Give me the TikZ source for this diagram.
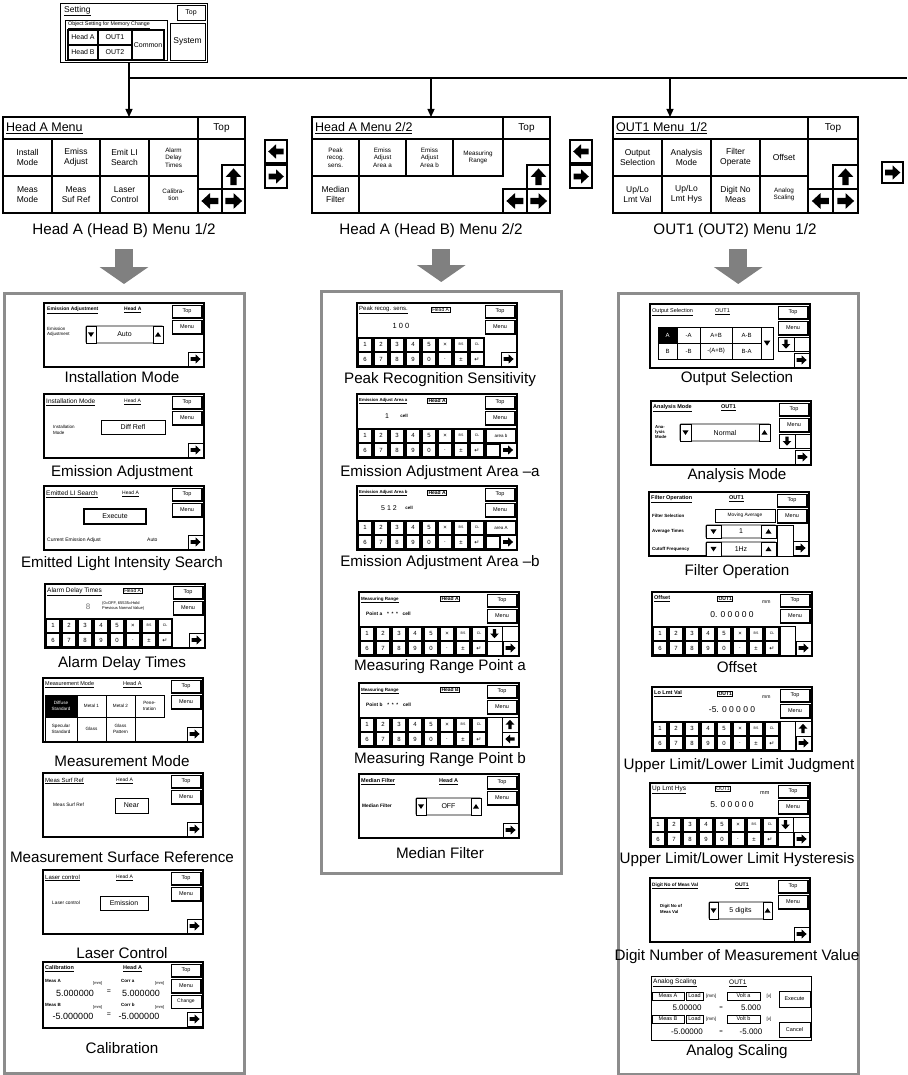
\documentclass[tikz,border=0pt]{standalone}
\usepackage{fontspec}
\setmainfont{Liberation Sans}
\newfontfamily\symfont{DejaVu Sans}
\usetikzlibrary{arrows.meta, calc}

\newcommand{\fsz}[1]{\fontsize{#1}{#1}\selectfont}

\tikzset{
  pics/blk/.style={code={\fill (-0.75,-0.28) -- (0,-0.28) -- (0,-0.72) -- (0.78,0) -- (0,0.72) -- (0,0.28) -- (-0.75,0.28) -- cycle;}},
  pics/tri/.style={code={\fill (-1,-0.7) -- (1,-0.7) -- (0,0.8) -- cycle;}}
}

% arrow key: [style] x1 y1 x2 y2 angle size
\newcommand{\abtn}[7][btn]{%
  \draw[#1] (#2,#3) rectangle (#4,#5);
  \pic[rotate=#6, scale=#7] at ({(#2+#4)/2},{(#3+#5)/2}) {blk};}
% Top and Menu keys of a setting screen
\newcommand{\topmenu}{%
  \draw[btn] (128,2) rectangle (158,15);
  \draw[line width=1.4pt] (158,2.5) -- (158,15) -- (128.5,15);
  \node[stxt] at (143,8.5) {Top};
  \draw[btn] (128,17) rectangle (158,31);
  \draw[line width=1.4pt] (158,17.5) -- (158,31) -- (128.5,31);
  \node[stxt] at (143,24) {Menu};}
\newcommand{\nextbtn}{\abtn{144}{49}{159}{63}{0}{6.5}}
% ten-key pad, #1 = gap between keys
\newcommand{\numpad}[1]{%
  \fill (0,34) rectangle (128,64);
  \foreach \i in {0,...,7} {
    \fill[white] ({16*\i+#1},{34+#1}) rectangle ({16*\i+16-#1},{49-#1/2});
    \fill[white] ({16*\i+#1},{49+#1/2}) rectangle ({16*\i+16-#1},{64-#1});
  }
  \foreach \k [count=\i from 0] in {1,2,3,4,5,×,{\fsz{3.5}BS},{\fsz{3.5}CL}}
    \node[keylbl] at ({16*\i+8},41.5) {\k};
  \foreach \k [count=\i from 0] in {6,7,8,9,0,.,±,{\symfont ↵}}
    \node[keylbl] at ({16*\i+8},56.5) {\k};}
% up/down selector: x1 y1 x2 y2 text key-width
\newcommand{\selbox}[6]{%
  \draw[btn, rounded corners=1pt] (#1,#2) rectangle (#3,#4);
  \draw[btn] (#1,#2) rectangle ({#1+#6},#4);
  \draw[btn] ({#3-#6},#2) rectangle (#3,#4);
  \pic[scale=3] at ({#1+#6/2},{(#2+#4)/2}) {tri};
  \pic[rotate=180, scale=3] at ({#3-#6/2},{(#2+#4)/2}) {tri};
  \node[stxt, font=\fsz{7}] at ({(#1+#3)/2},{(#2+#4)/2}) {#5};}

\begin{document}
\begin{tikzpicture}[x=1pt, y=-1pt,
    scr/.style={draw=black, line width=1.3pt, fill=white},
    mscr/.style={draw=black, line width=2pt, fill=white, inner sep=0pt, outer sep=0pt},
    btn/.style={draw=black, line width=0.9pt, fill=white},
    mbtn/.style={draw=black, line width=1.8pt, fill=white},
    stxt/.style={inner sep=0pt, font=\fsz{5.5}},
    ttl/.style={anchor=west, inner sep=0pt, font=\fsz{5.5}},
    hbox/.style={draw=black, line width=0.7pt, inner sep=1pt, anchor=west, font=\fsz{5}},
    keylbl/.style={inner sep=0pt, font=\fsz{6}},
    mlbl/.style={inner sep=0pt, align=center, font=\fontsize{8.5}{10.5}\selectfont},
    slbl/.style={inner sep=0pt, align=center, font=\fontsize{6.3}{7.3}\selectfont},
    tlbl/.style={inner sep=0pt, align=center, font=\fontsize{4.6}{5.4}\selectfont},
    captxt/.style={inner sep=0pt, font=\fsz{15.2}},
    panel/.style={draw=black!45, line width=2.5pt, inner sep=0pt},
    flow/.style={line width=1.3pt, -{Triangle[length=8pt, width=7pt]}},
    bigarrow/.style={draw=black!50, line width=18pt, -{Triangle[length=17pt, width=48pt]}}
  ]
  \path[use as bounding box] (0,0) rectangle (907,1075);

  % --- SETTING SCREEN ---
  \node[scr, anchor=north west, minimum width=147, minimum height=59] (setting) at (60,3) {};
  \begin{scope}[shift={(60,3)}]
    \node[ttl, font=\fsz{8.5}] at (4,8) {\underline{Setting}};
    \draw[btn] (117,2) rectangle (145,17);
    \node[stxt, font=\fsz{7}] at (131,9.5) {Top};
    \draw[line width=0.6pt] (5,17) rectangle (107,57);
    \node[ttl, font=\fsz{5.3}] at (8,22.5) {\underline{Object Setting for Memory Change}};
    \draw[mbtn, line width=1.4pt] (8,27) rectangle (38,42) (38,27) rectangle (72,42)
      (8,42) rectangle (38,57) (38,42) rectangle (72,57) (72,27) rectangle (104,57);
    \node[stxt, font=\fsz{7}] at (23,34.5) {Head A};
    \node[stxt, font=\fsz{7}] at (55,34.5) {OUT1};
    \node[stxt, font=\fsz{7}] at (23,49.5) {Head B};
    \node[stxt, font=\fsz{7}] at (55,49.5) {OUT2};
    \node[stxt, font=\fsz{7}] at (88,42) {Common};
    \draw[btn] (110,20) rectangle (145,57);
    \node[stxt, font=\fsz{8.5}] at (127.5,38.5) {System};
  \end{scope}

  % --- MENU SCREENS ---
  \node[mscr, anchor=north west, minimum width=242, minimum height=96] (headA) at (3,117) {};
  \begin{scope}[shift={(3,117)}]
    \draw[mbtn] (0,0) rectangle (195,22) (195,0) rectangle (242,22);
    \node[ttl, font=\fsz{12.5}] at (3,11) {\underline{Head A Menu}};
    \node[mlbl, font=\fsz{10}] at (218.5,11) {Top};
    \draw[mbtn] (0,22) rectangle (49,59) (49,22) rectangle (97,59) (97,22) rectangle (146,59) (146,22) rectangle (195,59)
      (0,59) rectangle (49,96) (49,59) rectangle (97,96) (97,59) rectangle (146,96) (146,59) rectangle (195,96);
    \node[mlbl] at (24.5,40.5) {Install\\Mode};
    \node[mlbl] at (73,40.5) {Emiss\\Adjust};
    \node[mlbl] at (121.5,40.5) {Emit LI\\Search};
    \node[slbl] at (170.5,40.5) {Alarm\\Delay\\Times};
    \node[mlbl] at (24.5,77.5) {Meas\\Mode};
    \node[mlbl] at (73,77.5) {Meas\\Suf Ref};
    \node[mlbl] at (121.5,77.5) {Laser\\Control};
    \node[slbl] at (170.5,77.5) {Calibra-\\tion};
    \abtn[mbtn]{219}{48}{242}{72}{90}{11}
    \abtn[mbtn]{195}{72}{219}{96}{180}{11}
    \abtn[mbtn]{219}{72}{242}{96}{0}{11}
  \end{scope}
  \abtn[mbtn]{265}{140}{287}{163}{180}{10}
  \abtn[mbtn]{265}{165}{287}{188}{0}{10}

  \node[mscr, anchor=north west, minimum width=238, minimum height=96] (head2) at (312,117) {};
  \begin{scope}[shift={(312,117)}]
    \draw[mbtn] (0,0) rectangle (191,22) (191,0) rectangle (238,22);
    \node[ttl, font=\fsz{12.5}] at (3,11) {\underline{Head A Menu 2/2}};
    \node[mlbl, font=\fsz{10}] at (214.5,11) {Top};
    \draw[mbtn] (0,22) rectangle (47,59) (47,22) rectangle (94,59) (94,22) rectangle (141,59) (141,22) rectangle (191,59)
      (0,59) rectangle (47,96);
    \node[slbl] at (23.5,40.5) {Peak\\recog.\\sens.};
    \node[slbl] at (70.5,40.5) {Emiss\\Adjust\\Area a};
    \node[slbl] at (117.5,40.5) {Emiss\\Adjust\\Area b};
    \node[slbl] at (166,40.5) {Measuring\\Range};
    \node[mlbl] at (23.5,77.5) {Median\\Filter};
    \abtn[mbtn]{215}{48}{238}{72}{90}{11}
    \abtn[mbtn]{191}{72}{215}{96}{180}{11}
    \abtn[mbtn]{215}{72}{238}{96}{0}{11}
  \end{scope}
  \abtn[mbtn]{570}{140}{592}{163}{180}{10}
  \abtn[mbtn]{570}{165}{592}{188}{0}{10}

  \node[mscr, anchor=north west, minimum width=245, minimum height=96] (out1) at (613,117) {};
  \begin{scope}[shift={(613,117)}]
    \draw[mbtn] (0,0) rectangle (195,22) (195,0) rectangle (245,22);
    \node[ttl, font=\fsz{12.5}] at (3,11) {\underline{OUT1 Menu\, 1/2}};
    \node[mlbl, font=\fsz{10}] at (220,11) {Top};
    \draw[mbtn] (0,22) rectangle (49,59) (49,22) rectangle (98,59) (98,22) rectangle (147,59) (147,22) rectangle (195,59)
      (0,59) rectangle (49,96) (49,59) rectangle (98,96) (98,59) rectangle (147,96) (147,59) rectangle (195,96);
    \node[mlbl] at (24.5,40.5) {Output\\Selection};
    \node[mlbl] at (73.5,40.5) {Analysis\\Mode};
    \node[mlbl] at (122.5,40.5) {Filter\\Operate};
    \node[mlbl] at (171,40.5) {Offset};
    \node[mlbl] at (24.5,77.5) {Up/Lo\\Lmt Val};
    \node[mlbl] at (73.5,77.5) {Up/Lo\\Lmt Hys};
    \node[mlbl] at (122.5,77.5) {Digit No\\Meas};
    \node[slbl] at (171,77.5) {Analog\\Scaling};
    \abtn[mbtn]{220}{48}{245}{72}{90}{11}
    \abtn[mbtn]{195}{72}{220}{96}{180}{11}
    \abtn[mbtn]{220}{72}{245}{96}{0}{11}
  \end{scope}
  \abtn[mbtn]{882}{162}{903}{183}{0}{10}

  % --- TOP CONNECTIONS ---
  \coordinate (busL) at (129,78);
  \coordinate (busR) at (907,78);
  \coordinate (tapC) at (670,78);
  \draw[line width=1.3pt] (setting.south -| busL) -- (busL) -- (busR);
  \draw[flow] (busL) -- (busL |- headA.north);
  \draw[flow] (busL -| head2.north) -- (head2.north);
  \draw[flow] (tapC) -- (tapC |- out1.north);

  % --- MENU CAPTIONS ---
  \node[captxt] (capMenuA) at (124,231) {Head A (Head B) Menu 1/2};
  \node[captxt] (capMenuB) at (431,231) {Head A (Head B) Menu 2/2};
  \node[captxt] (capMenuC) at (735,231) {OUT1 (OUT2) Menu 1/2};

  % --- PANELS ---
  \node[panel, anchor=north west, minimum width=240, minimum height=780] (panelA) at (3,292) {};
  \node[panel, anchor=north west, minimum width=240, minimum height=582] (panelB) at (320,290) {};
  \node[panel, anchor=north west, minimum width=240, minimum height=781] (panelC) at (617,292) {};

  \draw[bigarrow] ([yshift=-11pt]capMenuA.south) -- ([yshift=8pt]capMenuA.south |- panelA.north);
  \draw[bigarrow] ([yshift=-11pt]capMenuB.south -| panelB.north) -- ([yshift=8pt]panelB.north);
  \draw[bigarrow] ([yshift=-11pt]capMenuC.south -| panelC.north) -- ([yshift=8pt]panelC.north);

  % --- PANEL A: HEAD SETTINGS 1/2 ---
  \begin{scope}[shift={(44,303)}]
    \draw[scr] (0,0) rectangle (160,64);
    \node[ttl, font=\fsz{5}\bfseries] at (3,7) {\underline{Emission Adjustment}};
    \node[ttl, font=\fsz{5}\bfseries] at (80,7) {\underline{Head A}};
    \node[ttl, font=\fontsize{4.5}{5.5}\selectfont, align=left] at (3,29) {Emission\\Adjustment};
    \selbox{42}{23}{119}{40}{Auto}{10}
    \topmenu \nextbtn
  \end{scope}
  \node[captxt] (capInst) at (122,377) {Installation Mode};

  \begin{scope}[shift={(44,394)}]
    \draw[scr] (0,0) rectangle (160,64);
    \node[ttl, font=\fsz{6.5}] at (2,8) {\underline{Installation Mode}};
    \node[ttl, font=\fsz{5}] at (80,8) {\underline{Head A}};
    \node[ttl, font=\fontsize{4.5}{5.5}\selectfont, align=left] at (9,36) {Installation\\Mode};
    \draw[btn] (57,26) rectangle (121,40);
    \node[stxt, font=\fsz{7}] at (89,33) {Diff Refl};
    \topmenu \nextbtn
  \end{scope}
  \node[captxt] (capEmis) at (122,473) {Emission Adjustment};

  \begin{scope}[shift={(44,486)}]
    \draw[scr] (0,0) rectangle (160,64);
    \node[ttl, font=\fsz{6.5}] at (2,8) {\underline{Emitted LI Search}};
    \node[ttl, font=\fsz{5}] at (78,8) {\underline{Head A}};
    \draw[btn, line width=1.4pt] (40,23) rectangle (102,38);
    \node[stxt, font=\fsz{7}] at (71,30.5) {Execute};
    \node[ttl, font=\fsz{5}] at (3,54) {Current Emission Adjust};
    \node[ttl, font=\fsz{5}] at (103,54) {Auto};
    \topmenu \nextbtn
  \end{scope}
  \node[captxt] (capSearch) at (122,564) {Emitted Light Intensity Search};

  \begin{scope}[shift={(45,584)}]
    \draw[scr] (0,0) rectangle (160,64);
    \node[ttl, font=\fsz{6.5}] at (2,8) {\underline{Alarm Delay Times}};
    \node[hbox] at (78,7) {Head A};
    \node[stxt, font=\fsz{8}, text=black!55] at (43,23) {8};
    \node[ttl, font=\fontsize{4}{4.6}\selectfont, align=left] at (57,22) {(0=OFF, 65535=Hold\\Previous Normal Value)};
    \numpad{1.7}
    \topmenu \nextbtn
  \end{scope}
  \node[captxt] (capAlarm) at (122,664) {Alarm Delay Times};

  \begin{scope}[shift={(43,678)}]
    \draw[scr] (0,0) rectangle (160,64);
    \node[ttl, font=\fsz{5.5}] at (2,7) {\underline{Measurement Mode}};
    \node[ttl, font=\fsz{5.5}] at (80,7) {\underline{Head A}};
    \fill (2,17) rectangle (34,39);
    \draw[line width=0.6pt] (2,17) rectangle (34,39) (34,17) rectangle (63,39) (63,17) rectangle (92,39) (92,17) rectangle (121,39)
      (2,39) rectangle (34,63) (34,39) rectangle (63,63) (63,39) rectangle (92,63);
    \node[tlbl, text=white] at (18,28) {Diffuse\\Standard};
    \node[tlbl] at (48.5,28) {Metal 1};
    \node[tlbl] at (77.5,28) {Metal 2};
    \node[tlbl] at (106.5,28) {Pene-\\tration};
    \node[tlbl] at (18,51) {Specular\\Standard};
    \node[tlbl] at (48.5,51) {Glass};
    \node[tlbl] at (77.5,51) {Glass\\Pattern};
    \topmenu \nextbtn
  \end{scope}
  \node[captxt] (capMeasMode) at (122,761) {Measurement Mode};

  \begin{scope}[shift={(43,773)}]
    \draw[scr] (0,0) rectangle (160,64);
    \node[ttl, font=\fsz{6}] at (2,8) {\underline{Meas Surf Ref}};
    \node[ttl, font=\fsz{5}] at (73,8) {\underline{Head A}};
    \node[ttl, font=\fsz{4.8}] at (10,32) {Meas Surf Ref};
    \draw[btn] (72,25) rectangle (105,40);
    \node[stxt, font=\fsz{7}] at (88.5,32.5) {Near};
    \topmenu \nextbtn
  \end{scope}
  \node[captxt] (capSurf) at (122,857) {Measurement Surface Reference};

  \begin{scope}[shift={(43,870)}]
    \draw[scr] (0,0) rectangle (160,64);
    \node[ttl, font=\fsz{6}] at (2,8) {\underline{Laser control}};
    \node[ttl, font=\fsz{5}] at (73,8) {\underline{Head A}};
    \node[ttl, font=\fsz{4.8}] at (9,33) {Laser control};
    \draw[btn] (57,26) rectangle (105,40);
    \node[stxt, font=\fsz{7}] at (81,33) {Emission};
    \topmenu \nextbtn
  \end{scope}
  \node[captxt] (capLaser) at (122,953) {Laser Control};

  \begin{scope}[shift={(43,962)}]
    \draw[scr, line width=1.7pt] (0,0) rectangle (160,66);
    \node[ttl, font=\fsz{5.5}\bfseries] at (2,7) {\underline{Calibration}};
    \node[ttl, font=\fsz{5.5}\bfseries] at (80,7) {\underline{Head A}};
    \node[ttl, font=\fsz{4.5}\bfseries] at (2,19) {Meas A};
    \node[ttl, font=\fsz{4}] at (50,21) {[mm]};
    \node[ttl, font=\fsz{4.5}\bfseries] at (78,19) {Corr a};
    \node[ttl, font=\fsz{4}] at (112,21) {[mm]};
    \node[stxt, font=\fsz{9}] at (32,31) {5.000000};
    \node[stxt, font=\fsz{7}] at (66,30) {=};
    \node[stxt, font=\fsz{9}] at (98,31) {5.000000};
    \node[ttl, font=\fsz{4.5}\bfseries] at (2,43) {Meas B};
    \node[ttl, font=\fsz{4}] at (50,45) {[mm]};
    \node[ttl, font=\fsz{4.5}\bfseries] at (78,43) {Corr b};
    \node[ttl, font=\fsz{4}] at (112,45) {[mm]};
    \node[stxt, font=\fsz{9}] at (30,54) {-5.000000};
    \node[stxt, font=\fsz{7}] at (66,53) {=};
    \node[stxt, font=\fsz{9}] at (96,54) {-5.000000};
    \topmenu
    \draw[btn] (128,33) rectangle (158,46);
    \node[stxt, font=\fsz{5}] at (143,39.5) {Change};
    \abtn{144}{50}{159}{64}{0}{6.5}
  \end{scope}
  \node[captxt] (capCalib) at (122,1048) {Calibration};

  % --- PANEL B: HEAD SETTINGS 2/2 ---
  \begin{scope}[shift={(357,303)}]
    \draw[scr] (0,0) rectangle (160,64);
    \node[ttl, font=\fsz{6}] at (2,7) {\underline{Peak recog. sens.}};
    \node[hbox] at (74,7) {Head A};
    \node[stxt, font=\fsz{7.5}] at (44,23) {1 0 0};
    \numpad{1.7}
    \topmenu \nextbtn
  \end{scope}
  \node[captxt] (capPeak) at (440,380) {Peak Recognition Sensitivity};

  \begin{scope}[shift={(357,394)}]
    \draw[scr, line width=1.8pt] (0,0) rectangle (160,64);
    \node[ttl, font=\fsz{4.3}\bfseries] at (2,7) {\underline{Emission Adjust Area a}};
    \node[hbox, line width=1.1pt, font=\fsz{5}\bfseries] at (70,7) {Head A};
    \node[stxt, font=\fsz{7}] at (30,22) {1};
    \node[stxt, font=\fsz{4.5}\bfseries] at (47,22) {cell};
    \numpad{2.4}
    \fill (128,34) rectangle (160,64);
    \fill[white] (130,36) rectangle (158,47.5);
    \node[stxt, font=\fsz{4.5}] at (144,41.8) {area b};
    \fill[white] (130,50.5) rectangle (142,62);
    \abtn{143}{49}{159}{63}{0}{6.5}
    \topmenu
  \end{scope}
  \node[captxt] (capAreaA) at (440,473) {Emission Adjustment Area –a};

  \begin{scope}[shift={(357,486)}]
    \draw[scr, line width=1.8pt] (0,0) rectangle (160,64);
    \node[ttl, font=\fsz{4.3}\bfseries] at (2,7) {\underline{Emission Adjust Area b}};
    \node[hbox, line width=1.1pt, font=\fsz{5}\bfseries] at (70,7) {Head A};
    \node[stxt, font=\fsz{7}] at (32,22) {5 1 2};
    \node[stxt, font=\fsz{4.5}\bfseries] at (52,22) {cell};
    \numpad{2.4}
    \fill (128,34) rectangle (160,64);
    \fill[white] (130,36) rectangle (158,47.5);
    \node[stxt, font=\fsz{4.5}] at (144,41.8) {area A};
    \fill[white] (130,50.5) rectangle (142,62);
    \abtn{143}{49}{159}{63}{0}{6.5}
    \topmenu
  \end{scope}
  \node[captxt] (capAreaB) at (440,563) {Emission Adjustment Area –b};

  \begin{scope}[shift={(359,592)}]
    \draw[scr, line width=1.8pt] (0,0) rectangle (160,64);
    \node[ttl, font=\fsz{4.5}\bfseries] at (2,8) {\underline{Measuring Range}};
    \node[hbox, line width=1.1pt, font=\fsz{5}\bfseries] at (81,7) {Head A};
    \node[ttl, font=\fsz{4.8}\bfseries] at (7,22) {Point a\quad * \ * \ *\quad cell};
    \numpad{2.4}
    \topmenu
    \abtn{128}{34}{143}{49}{270}{6}
    \draw[btn] (143,34) rectangle (159,49);
    \draw[btn] (128,49) rectangle (143,63);
    \nextbtn
  \end{scope}
  \node[captxt] (capRangeA) at (440,667) {Measuring Range Point a};

  \begin{scope}[shift={(359,683)}]
    \draw[scr, line width=1.8pt] (0,0) rectangle (160,64);
    \node[ttl, font=\fsz{4.5}\bfseries] at (2,8) {\underline{Measuring Range}};
    \node[hbox, line width=1.1pt, font=\fsz{5}\bfseries] at (81,7) {Head B};
    \node[ttl, font=\fsz{4.8}\bfseries] at (7,22) {Point b\quad * \ * \ *\quad cell};
    \numpad{2.4}
    \topmenu
    \draw[btn] (128,34) rectangle (143,63);
    \abtn{143}{34}{159}{49}{90}{6}
    \abtn{143}{49}{159}{63}{180}{6}
  \end{scope}
  \node[captxt] (capRangeB) at (440,760) {Measuring Range Point b};

  \begin{scope}[shift={(359,774)}]
    \draw[scr] (0,0) rectangle (160,64);
    \node[ttl, font=\fsz{5.5}\bfseries] at (2,8) {\underline{Median Filter}};
    \node[ttl, font=\fsz{5.5}\bfseries] at (80,8) {\underline{Head A}};
    \node[ttl, font=\fsz{4.8}\bfseries] at (3,32) {Median Filter};
    \selbox{57}{24}{122}{41}{OFF}{10}
    \topmenu \nextbtn
  \end{scope}
  \node[captxt] (capMedian) at (440,853) {Median Filter};

  % --- PANEL C: OUTPUT SETTINGS ---
  \begin{scope}[shift={(650,304)}]
    \draw[scr] (0,0) rectangle (160,64);
    \node[ttl, font=\fsz{5.5}] at (2,8) {\underline{Output Selection}};
    \node[ttl, font=\fsz{5.5}] at (65,8) {\underline{OUT1}};
    \draw[line width=0.6pt] (8,23) rectangle (123,55);
    \fill (8,23) rectangle (27,39);
    \draw[line width=0.6pt] (27,23) -- (27,55) (50,23) -- (50,55) (82,23) -- (82,55) (111,23) -- (111,55) (8,39) -- (111,39);
    \node[stxt, font=\fsz{6}, text=white] at (17.5,31) {A};
    \node[stxt, font=\fsz{6}] at (38.5,31) {-A};
    \node[stxt, font=\fsz{6}] at (66,31) {A+B};
    \node[stxt, font=\fsz{6}] at (96.5,31) {A-B};
    \node[stxt, font=\fsz{6}] at (17.5,47) {B};
    \node[stxt, font=\fsz{6}] at (38.5,47) {-B};
    \node[stxt, font=\fsz{6}] at (66,47) {-(A+B)};
    \node[stxt, font=\fsz{6}] at (96.5,47) {B-A};
    \pic[scale=3.3] at (117,39) {tri};
    \topmenu
    \abtn{128}{33}{144}{47}{270}{6}
    \draw[btn] (144,33) rectangle (159,47);
    \nextbtn
  \end{scope}
  \node[captxt] (capOutSel) at (737,379) {Output Selection};

  \begin{scope}[shift={(651,401)}]
    \draw[scr] (0,0) rectangle (160,64);
    \node[ttl, font=\fsz{5.5}\bfseries] at (2,7) {\underline{Analysis Mode}};
    \node[ttl, font=\fsz{5.5}\bfseries] at (70,7) {\underline{OUT1}};
    \node[ttl, font=\fontsize{4.3}{5.3}\selectfont\bfseries, align=left] at (4,31) {Ana-\\lysis\\Mode};
    \selbox{29}{23}{119}{40}{Normal}{11}
    \topmenu
    \abtn{128}{33}{144}{47}{270}{6}
    \draw[btn] (144,33) rectangle (159,47);
    \nextbtn
  \end{scope}
  \node[captxt] (capAnaMode) at (737,476) {Analysis Mode};

  \begin{scope}[shift={(649,492)}]
    \draw[scr] (0,0) rectangle (160,64);
    \node[ttl, font=\fsz{5.5}\bfseries] at (2,7) {\underline{Filter Operation}};
    \node[ttl, font=\fsz{5.5}\bfseries] at (80,7) {\underline{OUT1}};
    \node[ttl, font=\fsz{4.5}\bfseries] at (3,23.5) {Filter Selection};
    \draw[btn] (66,17) rectangle (126,30);
    \node[stxt, font=\fsz{4.8}] at (96,23.5) {Moving Average};
    \node[ttl, font=\fsz{4.5}\bfseries] at (3,39.5) {Average Times};
    \selbox{57}{33}{127}{46}{1}{15}
    \node[ttl, font=\fsz{4.5}\bfseries] at (3,57) {Cutoff Frequency};
    \selbox{57}{50}{127}{64}{1Hz}{15}
    \topmenu
    \draw[btn] (128,33) rectangle (144,64);
    \nextbtn
  \end{scope}
  \node[captxt] (capFilter) at (737,572) {Filter Operation};

  \begin{scope}[shift={(652,592)}]
    \draw[scr, line width=1.8pt] (0,0) rectangle (160,64);
    \node[ttl, font=\fsz{5.5}\bfseries] at (2,7) {\underline{Offset}};
    \node[hbox, line width=1.1pt, font=\fsz{5}\bfseries] at (65,7) {OUT1};
    \node[ttl, font=\fsz{5}] at (110,10) {mm};
    \node[stxt, font=\fsz{8.5}] at (80,23) {0. 0 0 0 0 0};
    \numpad{2.4}
    \topmenu
    \draw[btn] (128,34) rectangle (143,63);
    \nextbtn
  \end{scope}
  \node[captxt] (capOffset) at (737,667) {Offset};

  \begin{scope}[shift={(652,687)}]
    \draw[scr, line width=1.8pt] (0,0) rectangle (160,64);
    \node[ttl, font=\fsz{5.5}\bfseries] at (2,7) {\underline{Lo Lmt Val}};
    \node[hbox, line width=1.1pt, font=\fsz{5}\bfseries] at (65,7) {OUT1};
    \node[ttl, font=\fsz{5}] at (110,10) {mm};
    \node[stxt, font=\fsz{8.5}] at (80,23) {-5. 0 0 0 0 0};
    \numpad{2.4}
    \topmenu
    \draw[btn] (128,34) rectangle (143,63);
    \abtn{143}{34}{159}{49}{90}{6}
    \nextbtn
  \end{scope}
  \node[captxt] (capJudge) at (739,766) {Upper Limit/Lower Limit Judgment};

  \begin{scope}[shift={(650,783)}]
    \draw[scr] (0,0) rectangle (160,64);
    \node[ttl, font=\fsz{6.5}] at (2,7) {\underline{Up Lmt Hys}};
    \node[hbox] at (65,6) {OUT1};
    \node[ttl, font=\fsz{5.5}] at (110,10) {mm};
    \node[stxt, font=\fsz{8.5}] at (82,22) {5. 0 0 0 0 0};
    \numpad{1.7}
    \topmenu
    \abtn{128}{34}{143}{49}{270}{6}
    \draw[btn] (143,34) rectangle (159,49);
    \draw[btn] (128,49) rectangle (143,63);
    \nextbtn
  \end{scope}
  \node[captxt] (capHys) at (737,860) {Upper Limit/Lower Limit Hysteresis};

  \begin{scope}[shift={(650,878)}]
    \draw[scr] (0,0) rectangle (160,64);
    \node[ttl, font=\fsz{4.8}\bfseries] at (2,8) {\underline{Digit No of Meas Val}};
    \node[ttl, font=\fsz{5}\bfseries] at (85,8) {\underline{OUT1}};
    \node[ttl, font=\fontsize{4.3}{5.3}\selectfont\bfseries, align=left] at (10,31) {Digit No of\\Meas Val};
    \selbox{59}{24}{122}{41}{5 digits}{9}
    \topmenu \nextbtn
  \end{scope}
  \node[captxt] (capDigit) at (737,957) {Digit Number of Measurement Value};

  \begin{scope}[shift={(651,976)}]
    \draw[scr, line width=0.8pt] (0,0) rectangle (160,64);
    \node[ttl, font=\fsz{6.5}] at (2,7) {\underline{Analog Scaling}};
    \node[ttl, font=\fsz{6.5}] at (78,7) {\underline{OUT1}};
    \draw[line width=0.6pt] (1,16) rectangle (33,24) (35,16) rectangle (52,24) (76,16) rectangle (109,24)
      (1,39) rectangle (33,47) (35,39) rectangle (52,47) (76,39) rectangle (109,47);
    \node[stxt, font=\fsz{5.5}] at (17,20) {Meas A};
    \node[stxt, font=\fsz{5.5}] at (43.5,20) {Load};
    \node[stxt, font=\fsz{4.5}] at (60,20) {[mm]};
    \node[stxt, font=\fsz{5.5}] at (92.5,20) {Volt a};
    \node[stxt, font=\fsz{4.5}] at (118,20) {[v]};
    \node[stxt, font=\fsz{8}] at (36,32) {5.00000};
    \node[stxt, font=\fsz{6}] at (70,32) {=};
    \node[stxt, font=\fsz{8}] at (100,32) {5.000};
    \node[stxt, font=\fsz{5.5}] at (17,43) {Meas B};
    \node[stxt, font=\fsz{5.5}] at (43.5,43) {Load};
    \node[stxt, font=\fsz{4.5}] at (60,43) {[mm]};
    \node[stxt, font=\fsz{5.5}] at (92.5,43) {Volt b};
    \node[stxt, font=\fsz{4.5}] at (118,43) {[v]};
    \node[stxt, font=\fsz{8}] at (36,56) {-5.00000};
    \node[stxt, font=\fsz{6}] at (70,56) {=};
    \node[stxt, font=\fsz{8}] at (100,56) {-5.000};
    \draw[btn] (128,15) rectangle (159,31);
    \node[stxt] at (143.5,23) {Execute};
    \draw[btn] (128,46) rectangle (159,61);
    \node[stxt] at (143.5,53.5) {Cancel};
  \end{scope}
  \node[captxt] (capScaling) at (737,1052) {Analog Scaling};

\end{tikzpicture}
\end{document}
